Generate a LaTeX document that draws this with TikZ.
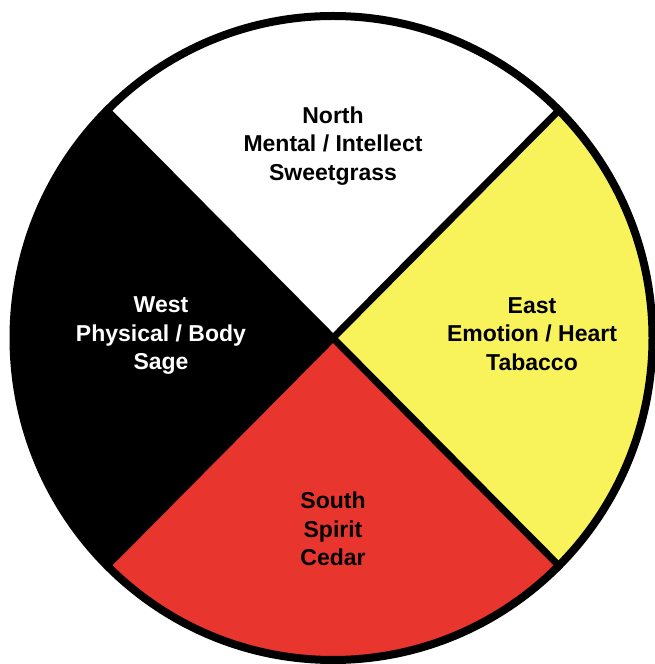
\documentclass[tikz,border=0pt]{standalone}
\usepackage{fontspec}
\setmainfont{Liberation Sans}
\usetikzlibrary{positioning,calc}
\definecolor{eastyellow}{HTML}{F9F35B}
\definecolor{southred}{HTML}{E8352E}

\begin{document}
\begin{tikzpicture}[
  x=1pt, y=1pt,
  quad/.style={draw=none},
  divider/.style={line width=7pt, black},
  rim/.style={line width=8pt, black},
  lbl/.style={align=center, font=\fontsize{23}{28.5}\selectfont\bfseries, inner sep=0pt}
]
  \useasboundingbox (0,0) rectangle (654,664);
  \coordinate (c) at (333,326);
  \coordinate (nw) at ($(c)+(-225.9,227.7)$);
  \coordinate (ne) at ($(c)+(225.9,227.7)$);
  \coordinate (sw) at ($(c)+(-225.9,-227.7)$);
  \coordinate (se) at ($(c)+(225.9,-227.7)$);

  % four quarters
  \fill[quad, white] (c) -- (nw) arc[start angle=135, end angle=45, x radius=319.5, y radius=322] -- cycle;
  \fill[quad, black] (c) -- (sw) arc[start angle=225, end angle=135, x radius=319.5, y radius=322] -- cycle;
  \fill[quad, southred] (c) -- (se) arc[start angle=315, end angle=225, x radius=319.5, y radius=322] -- cycle;
  \fill[quad, eastyellow] (c) -- (ne) arc[start angle=45, end angle=-45, x radius=319.5, y radius=322] -- cycle;

  % dividers
  \draw[divider] (nw) -- (se);
  \draw[divider] (ne) -- (sw);

  \draw[rim] (c) ellipse[x radius=319.5, y radius=322];

  \node[lbl] (north) at (333,518) {North\\Mental / Intellect\\Sweetgrass};
  \node[lbl, white] (west) at (161,328) {West\\Physical / Body\\Sage};
  \node[lbl] (east) at (532,330) {East\\Emotion / Heart\\Tabacco};
  \node[lbl] (south) at (333,135) {South\\Spirit\\Cedar};
\end{tikzpicture}
\end{document}
